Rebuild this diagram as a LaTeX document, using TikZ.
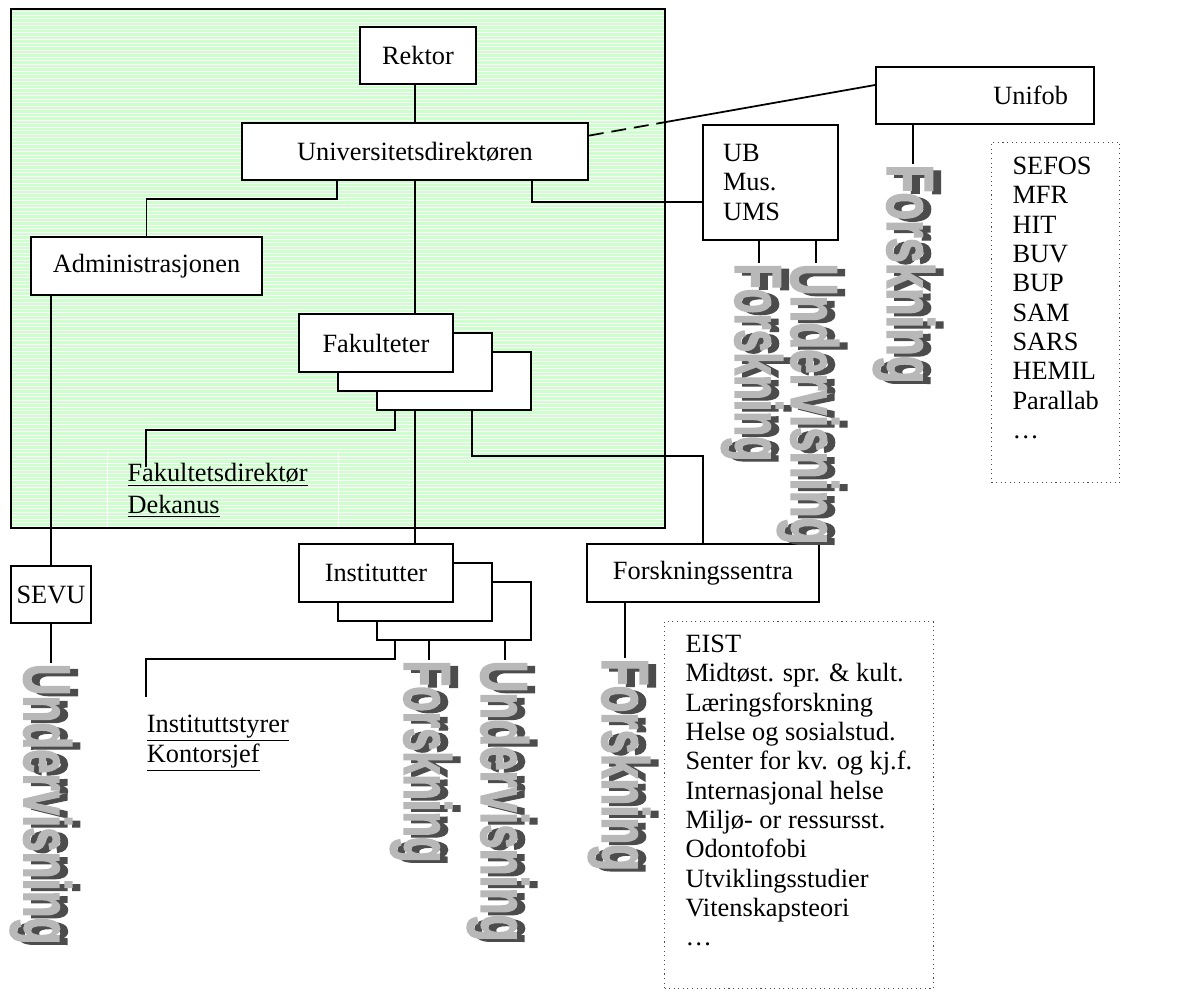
\documentclass[tikz,border=0pt]{standalone}
\usepackage{fontspec}
\setmainfont{Liberation Serif}
\newfontfamily\artfont[BoldFeatures={FakeBold=2.5}]{Liberation Sans}
\usetikzlibrary{calc}

\definecolor{orggreen}{RGB}{204,255,204}
\definecolor{artlight}{gray}{0.72}
\definecolor{artdark}{gray}{0.30}
\newcommand\pxu{0.02cm}
% word-art like label: light text with a dark shadow
\newcommand\wart[1]{\rlap{\textcolor{artdark}{\hspace{1.7pt}\raisebox{3pt}{#1}}}\textcolor{artlight}{#1}}

\tikzset{
  unit/.style={draw, fill=white, inner sep=0pt, minimum height=57*\pxu},
  stack/.style={unit, minimum width=154*\pxu, minimum height=58*\pxu},
  listbox/.style={draw=black!70, dotted, line width=0.6pt, anchor=north west, align=left, inner xsep=21*\pxu, inner ysep=0pt},
  vtext/.style={rotate=-90, anchor=base west, inner sep=0pt, yscale=1.5, font=\artfont\bfseries\fontsize{25pt}{25pt}\selectfont},
  note/.style={anchor=north west, inner sep=0pt, align=left}
}

\begin{document}
\begin{tikzpicture}[x=0.02cm, y=-0.02cm, line width=1pt,
    font=\fontsize{15pt}{16.7pt}\selectfont]
  \useasboundingbox (0,0) rectangle (1191,1000);
  %% university area
  \fill[orggreen] (11,9) rectangle (665,528);
  \foreach \y in {11.5,15,...,526}
    \draw[white, line width=0.55pt] (12,\y) -- (664,\y);
  \node[note, draw=white, line width=0.6pt, minimum width=231*\pxu, minimum height=76*\pxu,
        text width=191*\pxu, inner xsep=20*\pxu,
        font=\fontsize{15pt}{18.1pt}\selectfont] (fdir) at (107,452)
        {\underline{Fakultetsdirektør}\\\underline{Dekanus}};
  \draw (11,9) rectangle (665,528);

  %% units
  \node[unit, minimum width=116*\pxu] (rektor) at (418,55.5) {Rektor};
  \node[unit, minimum width=346*\pxu] (univ) at (415,151.5) {Universitetsdirektøren};
  \node[unit, minimum width=231*\pxu, minimum height=58*\pxu] (admin) at (146.5,266) {Administrasjonen};
  \node[unit, minimum width=135*\pxu, minimum height=115*\pxu, text width=95*\pxu, align=left] (ub) at (770.5,182.5) {UB\\Mus.\\UMS};
  \node[unit, minimum width=218*\pxu, text width=166*\pxu, align=right] (unifob) at (985,95.5) {Unifob};
  \node[stack] (fak3) at (454,381) {};
  \node[stack] (fak2) at (415,362) {};
  \node[stack] (fak) at (376,343) {Fakulteter};
  \node[stack] (inst3) at (454,611) {};
  \node[stack] (inst2) at (415,592) {};
  \node[stack] (inst) at (376,573) {Institutter};
  \node[unit, minimum width=232*\pxu, minimum height=58*\pxu] (fsentra) at (703,573) {Forskningssentra};
  \node[unit, minimum width=80*\pxu] (sevu) at (51,594.5) {SEVU};
  \node[note, font=\fontsize{15pt}{17pt}\selectfont] (istyr) at (146,714)
        {\underline{Instituttstyrer}\\\underline{Kontorsjef}};

  %% lists
  \node[listbox, minimum width=126*\pxu, minimum height=340*\pxu] (sefos) at (991,142)
        {SEFOS\\MFR\\HIT\\BUV\\BUP\\SAM\\SARS\\HEMIL\\Parallab\\…\\~};
  \node[listbox, minimum height=367*\pxu] (eist) at (664,621)
        {EIST\\Midtøst. spr. \& kult.\\Læringsforskning\\Helse og sosialstud.\\Senter for kv. og kj.f.\\
         Internasjonal helse\\Miljø- or ressursst.\\Odontofobi\\Utviklingsstudier\\Vitenskapsteori\\…\\~};

  %% activities
  \node[vtext] (und1) at ($(sevu.south)+(-27,39)$) {\wart{Undervisning}};
  \node[vtext, xscale=0.95] (forsk1) at ($(inst3.south west)+(28,19)$) {\wart{Forskning}};
  \node[vtext] (und2) at ($(inst3.south west)+(105,19)$) {\wart{Undervisning}};
  \node[vtext] (forsk2) at ($(fsentra.south west)+(16,55)$) {\wart{Forskning}};
  \node[vtext, xscale=0.93] (forsk3) at ($(ub.south west)+(33,22)$) {\wart{Forskning}};
  \node[vtext] (und3) at ($(ub.south west)+(89,22)$) {\wart{Undervisning}};
  \node[vtext, xscale=1.03] (forsk4) at ($(unifob.south west)+(12,39)$) {\wart{Forskning}};

  %% connections
  \draw (univ.north) -- (univ.north |- rektor.south);
  \draw ($(univ.south west)+(96,0)$) -- ++(0,18) -| (admin.north);
  \draw ($(univ.south east)+(-57,0)$) |- ($(ub.west)+(0,19.5)$);
  \coordinate (fromuniv) at ($(univ.north east)!0.23!(univ.south east)$);
  \coordinate (tounifob) at ($(unifob.west)+(0,-10.5)$);
  \coordinate (greenedge) at ($(fromuniv)!0.267!(tounifob)$);
  \draw[dash pattern=on 8.5pt off 4.5pt] (fromuniv) -- (greenedge);
  \draw (greenedge) -- (tounifob);
  \draw (univ.south) -- (univ.south |- fak.north);
  \draw ($(fak3.south west)+(19,0)$) -- ++(0,19) -| ($(fdir.north west)+(39,15)$);
  \draw ($(fak3.south west)+(96,0)$) -- ++(0,45) -| (fsentra.north);
  \draw (univ.south |- fak3.south) -- (univ.south |- inst.north);
  \draw (sevu.north) -- (sevu.north |- admin.south);
  \draw (sevu.south) -- (sevu.south |- und1.west);
  \draw ($(inst3.south west)+(19,0)$) -- ++(0,18) -| ($(istyr.north west)+(0,-17)$);
  \coordinate (f1) at ($(inst3.south west)+(53,0)$);
  \coordinate (u2) at ($(inst3.south west)+(129,0)$);
  \coordinate (f2) at ($(fsentra.south west)+(39,0)$);
  \coordinate (f3) at ($(ub.south west)+(57,0)$);
  \coordinate (u3) at ($(ub.south west)+(114,0)$);
  \coordinate (f4) at ($(unifob.south west)+(38,0)$);
  \draw (f1) -- (f1 |- forsk1.west);
  \draw (u2) -- (u2 |- und2.west);
  \draw (f2) -- (f2 |- forsk2.west);
  \draw (f3) -- (f3 |- forsk3.west);
  \draw (u3) -- (u3 |- und3.west);
  \draw (f4) -- (f4 |- forsk4.west);
\end{tikzpicture}
\end{document}
